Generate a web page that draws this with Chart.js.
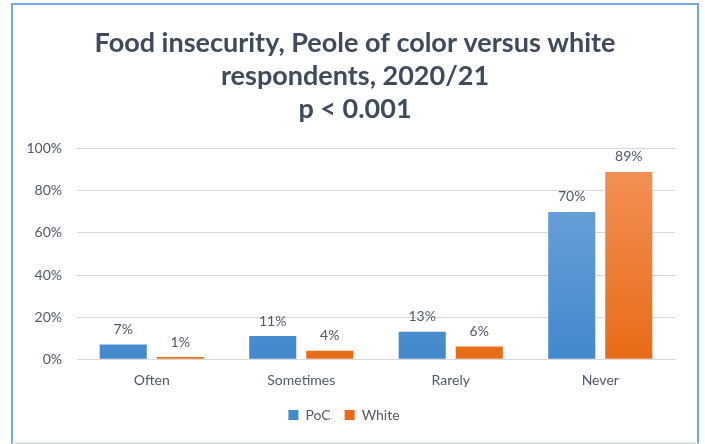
<!DOCTYPE html>
<html>
<head>
<meta charset="utf-8">
<script src="https://cdn.jsdelivr.net/npm/chart.js@4"></script>
<style>
  html, body { margin: 0; padding: 0; background: #fff; }
  body { width: 705px; height: 444px; position: relative; overflow: hidden; }
  #frame {
    position: absolute; left: 11px; top: 3px; width: 688px; height: 441px;
    border: 2px solid #78a8df; border-bottom-color: #dfe3e8; box-sizing: border-box;
  }
  #frame canvas { display: block; }
</style>
</head>
<body>
<div id="frame"><canvas id="chart" width="684" height="437"></canvas></div>
<script>
const categories = ["Often", "Sometimes", "Rarely", "Never"]
const pocValues = [7, 11, 13, 70]
const whiteValues = [1, 4, 6, 89]
const yTicks = [0, 20, 40, 60, 80, 100]

const textColor = "#4f5868"

function gradient(ctx, top, bottom) {
  const chart = ctx.chart
  const area = chart.chartArea
  if (!area) return bottom
  const g = chart.ctx.createLinearGradient(0, area.top, 0, area.bottom)
  g.addColorStop(0, top)
  g.addColorStop(1, bottom)
  return g
}

// value labels above each bar
const barLabels = {
  id: "barLabels",
  afterDatasetsDraw(chart) {
    const c = chart.ctx
    c.save()
    c.font = "14px Lato"
    c.fillStyle = textColor
    c.textAlign = "center"
    c.textBaseline = "bottom"
    chart.data.datasets.forEach((ds, i) => {
      chart.getDatasetMeta(i).data.forEach((bar, j) => {
        c.fillText(ds.data[j] + "%", bar.x, bar.y - 8)
      })
    })
    c.restore()
  },
}

// center the title on the whole canvas, not the padded box
const centerTitle = {
  id: "centerTitle",
  afterLayout(chart) {
    const t = chart.titleBlock
    if (t) {
      t.left = 0
      t.right = chart.width
      t.width = chart.width
    }
  },
}

new Chart(document.getElementById("chart"), {
  type: "bar",
  data: {
    labels: categories,
    datasets: [
      {
        label: "PoC",
        data: pocValues,
        backgroundColor: (ctx) => gradient(ctx, "#72a7de", "#4389cc"),
        categoryPercentage: 0.763,
        barPercentage: 0.825,
      },
      {
        label: "White",
        data: whiteValues,
        backgroundColor: (ctx) => gradient(ctx, "#f4935c", "#e86c17"),
        categoryPercentage: 0.763,
        barPercentage: 0.825,
      },
    ],
  },
  options: {
    responsive: false,
    animation: false,
    layout: { padding: { left: 0, right: 22, top: 8, bottom: 10 } },
    plugins: {
      title: {
        display: true,
        text: ["Food insecurity, Peole of color versus white", "respondents, 2020/21", "p < 0.001"],
        color: "#3f4b5c",
        font: { family: "Lato", size: 27, weight: "bold", lineHeight: 1.22 },
        padding: { top: 14, bottom: 23 },
      },
      legend: {
        position: "bottom",
        labels: {
          color: textColor,
          font: { family: "Lato", size: 14 },
          boxWidth: 10,
          boxHeight: 10,
          padding: 14,
        },
      },
      tooltip: { enabled: false },
    },
    scales: {
      x: {
        grid: { display: false },
        border: { color: "#d9d9d9" },
        ticks: { color: textColor, font: { family: "Lato", size: 14 }, padding: 5 },
      },
      y: {
        min: 0,
        max: 100,
        afterBuildTicks: (axis) => { axis.ticks = yTicks.map((v) => ({ value: v })) },
        afterFit: (axis) => { axis.width = 64 },
        grid: { color: "#d9d9d9", drawTicks: false },
        border: { display: false },
        ticks: {
          color: textColor,
          font: { family: "Lato", size: 14 },
          padding: 15,
          callback: (v) => v + "%",
        },
      },
    },
  },
  plugins: [barLabels, centerTitle],
})
</script>
</body>
</html>
